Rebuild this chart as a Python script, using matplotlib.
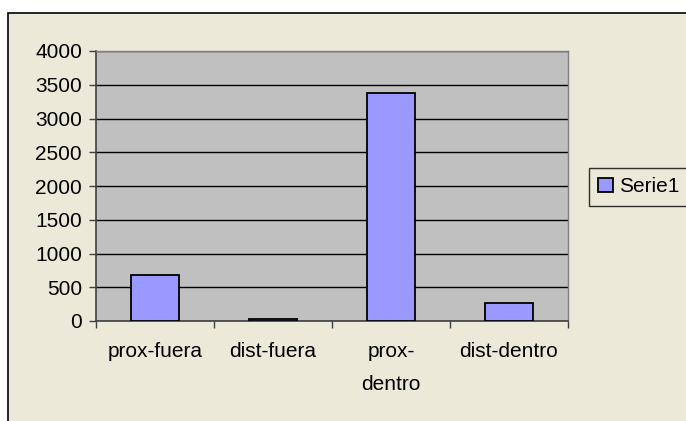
import numpy as np
import matplotlib.pyplot as plt
from matplotlib.patches import Rectangle

categories = ["prox-fuera", "dist-fuera", "prox-\ndentro", "dist-dentro"]
values = [685, 35, 3385, 270]
series_name = "Serie1"

plt.rcParams['font.family'] = ['Liberation Sans', 'DejaVu Sans']
FS = 15

W, H = 686, 421
fig = plt.figure(figsize=(W / 100, H / 100), dpi=100)
fig.patch.set_facecolor("white")

# chart area background with black border (runs off right/bottom edge)
fig.patches.append(Rectangle((8 / W, -0.1), 1.2, 1 - 13 / H + 0.1,
                             transform=fig.transFigure, facecolor="#ECE9D8",
                             edgecolor="black", linewidth=1.2, zorder=-5))

ax = fig.add_axes([96 / W, 1 - 321 / H, (568 - 96) / W, (321 - 51) / H])
ax.set_facecolor("#C0C0C0")

x = np.arange(len(categories))
bars = ax.bar(x, values, width=0.41, color="#9999FF", edgecolor="black",
              linewidth=1.3, zorder=3, label=series_name)

ax.set_xlim(-0.5, len(categories) - 0.5)
ax.set_ylim(0, 4000)
ax.set_yticks(np.arange(0, 4001, 500))
ax.yaxis.grid(True, color="black", linewidth=1.0, zorder=1)
ax.set_axisbelow(True)

ax.set_xticks(np.arange(-0.5, len(categories), 1.0))
ax.set_xticklabels([])
ax.set_xticks(x, minor=True)
ax.set_xticklabels(categories, minor=True, fontsize=FS, linespacing=1.95)
ax.tick_params(axis="x", which="minor", length=0, pad=15)
ax.tick_params(axis="x", which="major", length=5, width=1.0, color="#404040")
ax.tick_params(axis="y", length=5, width=1.0, color="#404040", labelsize=FS, pad=5)

for side in ["top", "right"]:
    ax.spines[side].set_color("#808080")
    ax.spines[side].set_linewidth(1.0)
for side in ["left", "bottom"]:
    ax.spines[side].set_color("#404040")
    ax.spines[side].set_linewidth(1.2)

leg = fig.legend(handles=[bars], labels=[series_name], loc="center left",
                 bbox_to_anchor=(589 / W, 1 - 187 / H), frameon=True,
                 fancybox=False, fontsize=FS, handlelength=0.7,
                 handleheight=0.7, handletextpad=0.3, borderpad=0.45,
                 borderaxespad=0)
leg.get_frame().set_edgecolor("black")
leg.get_frame().set_linewidth(1.0)
leg.get_frame().set_facecolor("#ECE9D8")

fig.savefig("out.png", dpi=100, facecolor=fig.get_facecolor())
